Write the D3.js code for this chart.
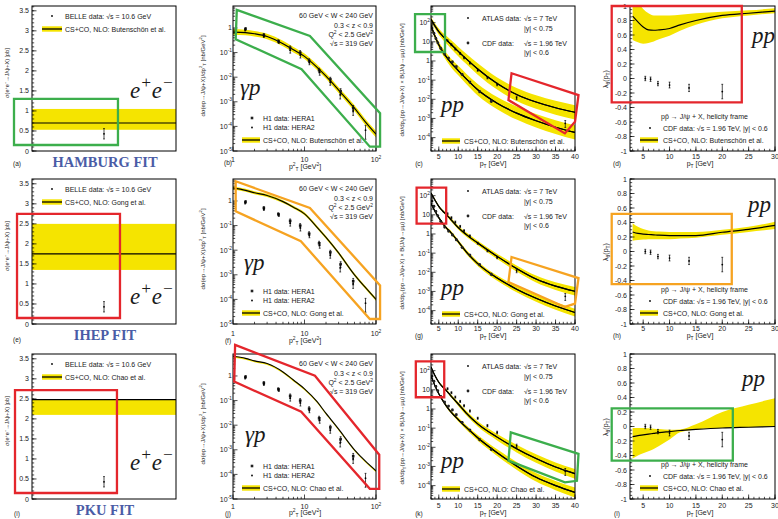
<!DOCTYPE html>
<html><head><meta charset="utf-8">
<script src="https://cdn.jsdelivr.net/npm/d3@7"></script>
<style>body{margin:0;background:#fff}svg{display:block}</style>
</head><body><svg id="chart" width="778" height="519"></svg>
<script>
// ================= DATA =================
const fitNames = ["HAMBURG FIT", "IHEP FIT", "PKU FIT"];
const modelNames = ["Butenschön et al.", "Gong et al.", "Chao et al."];

// Column 1: sigma(e+e- -> J/psi + X) [pb]
const eeCentral = [0.70, 1.75, 2.48];
const eeLow = [0.53, 1.35, 2.10];
const eeHigh = [1.05, 2.50, 2.48];
const belleX = 0.5;
const belleValue = 0.43;
const belleError = 0.13;

// Column 2: photoproduction, x = pT^2 [GeV^2]
const gpPt2 = [1, 1.5, 2, 3, 5, 7, 10, 15, 20, 30, 50, 70, 100];
const gpCentral = [
  [0.68, 0.65, 0.58, 0.45, 0.23, 0.13, 0.07, 0.025, 0.011, 0.003, 5.5e-4, 1.6e-4, 4.8e-5],
  [3.4, 2.7, 2.15, 1.67, 0.94, 0.56, 0.3, 0.085, 0.033, 0.0077, 1.0e-3, 3.2e-4, 1.0e-4],
  [6.3, 5.2, 4.1, 3.2, 1.46, 0.68, 0.3, 0.09, 0.03, 0.0069, 1.0e-3, 3.6e-4, 1.4e-4]
];
const gpLow = [
  [0.53, 0.51, 0.45, 0.35, 0.18, 0.101, 0.055, 0.0195, 0.0086, 0.0023, 4.2e-4, 1.2e-4, 3.5e-5],
  [2.96, 2.35, 1.87, 1.45, 0.82, 0.49, 0.26, 0.074, 0.0287, 0.0067, 8.7e-4, 2.8e-4, 8.7e-5],
  [5.5, 4.6, 3.6, 2.8, 1.28, 0.6, 0.264, 0.079, 0.0264, 0.0061, 8.8e-4, 3.2e-4, 1.23e-4]
];
const gpHigh = [
  [0.88, 0.85, 0.75, 0.58, 0.3, 0.17, 0.091, 0.0325, 0.0143, 0.0039, 7.2e-4, 2.1e-4, 6.5e-5],
  [3.9, 3.1, 2.47, 1.92, 1.08, 0.64, 0.345, 0.098, 0.038, 0.0089, 1.15e-3, 3.7e-4, 1.15e-4],
  [6.5, 5.35, 4.2, 3.3, 1.5, 0.72, 0.31, 0.093, 0.031, 0.0071, 1.03e-3, 3.7e-4, 1.44e-4]
];
const hera1Pt2 = [1.5, 2.7, 4.3, 6.3, 8.7, 11.6, 16, 23, 32, 48];
const hera1Val = [0.92, 0.52, 0.29, 0.155, 0.1, 0.047, 0.019, 0.0082, 0.0027, 5.5e-4];
const hera1Err = [0.12, 0.07, 0.04, 0.03, 0.02, 0.009, 0.004, 0.0017, 7e-4, 1.6e-4];
const hera2Pt2 = [1.45, 2.65, 4.3, 6.2, 8.6, 11.5, 16, 22.5, 31, 47, 70];
const hera2Val = [0.85, 0.47, 0.27, 0.125, 0.08, 0.04, 0.016, 0.0062, 0.0019, 4.3e-4, 7e-5];
const hera2Err = [0.1, 0.06, 0.035, 0.03, 0.02, 0.008, 0.004, 0.0015, 6e-4, 1.5e-4, 4e-5];

// Column 3: pp / ppbar, x = pT [GeV]
const ppPt = [3, 4, 5, 6, 7, 8, 10, 12, 15, 20, 25, 30, 35, 40];
const ppHiCentral = [
  [148, 68, 34, 20, 12.6, 7.9, 3.2, 1.32, 0.38, 0.066, 0.0178, 0.0072, 0.0036, 0.0021],
  [138, 60, 27.5, 15.8, 10, 6.0, 2.14, 0.955, 0.339, 0.0676, 0.0158, 0.00447, 0.0019, 0.00102],
  [158, 56, 25, 14.1, 8.9, 5.2, 1.82, 0.63, 0.166, 0.0339, 0.0085, 0.00257, 9.3e-4, 4.2e-4]
];
const ppHiLow = [
  [112, 49, 23.4, 13.2, 7.9, 4.8, 1.78, 0.71, 0.19, 0.032, 0.0081, 0.0032, 0.00158, 0.00089],
  [126, 53.7, 24, 13.5, 8.3, 4.9, 1.7, 0.74, 0.257, 0.049, 0.011, 0.00295, 0.0012, 6.2e-4],
  [148, 51, 22.4, 12.3, 7.6, 4.4, 1.45, 0.48, 0.12, 0.0229, 0.0054, 0.00155, 5.4e-4, 2.3e-4]
];
const ppHiHigh = [
  [195, 93, 49, 30, 20, 13.2, 5.6, 2.45, 0.76, 0.138, 0.039, 0.0162, 0.0083, 0.0049],
  [151, 68, 31.6, 18.6, 12, 7.4, 2.7, 1.23, 0.447, 0.093, 0.0229, 0.00676, 0.003, 0.0017],
  [170, 62, 28, 16.2, 10.5, 6.3, 2.3, 0.83, 0.23, 0.05, 0.0135, 0.0043, 0.00162, 7.4e-4]
];
const ppLoCentral = [
  [71, 20, 7.1, 3.16, 1.58, 0.87, 0.316, 0.12, 0.0316, 0.0063, 0.0019, 7.6e-4, 3.5e-4, 1.86e-4],
  [39.8, 15.8, 7.1, 3.55, 2.0, 1.26, 0.398, 0.12, 0.0282, 0.005, 0.00132, 4.4e-4, 1.74e-4, 7.9e-5],
  [55, 16.6, 6.3, 2.8, 1.38, 0.76, 0.28, 0.112, 0.0316, 0.0052, 0.00107, 2.7e-4, 1.0e-4, 4.4e-5]
];
const ppLoLow = [
  [54, 14.5, 4.9, 2.1, 1.0, 0.52, 0.178, 0.065, 0.0158, 0.003, 8.7e-4, 3.4e-4, 1.55e-4, 7.9e-5],
  [36.3, 14.1, 6.2, 3.0, 1.66, 1.02, 0.316, 0.093, 0.0214, 0.00363, 9.1e-4, 2.9e-4, 1.12e-4, 5.0e-5],
  [51, 15.1, 5.6, 2.45, 1.17, 0.63, 0.224, 0.085, 0.0229, 0.00355, 6.8e-4, 1.62e-4, 5.8e-5, 2.4e-5]
];
const ppLoHigh = [
  [93, 27.5, 10.2, 4.8, 2.5, 1.45, 0.56, 0.224, 0.063, 0.0132, 0.0042, 0.0017, 8.1e-4, 4.4e-4],
  [43.7, 17.8, 8.1, 4.2, 2.4, 1.55, 0.5, 0.155, 0.037, 0.0069, 0.0019, 6.6e-4, 2.7e-4, 1.26e-4],
  [59, 18.2, 7.1, 3.2, 1.62, 0.91, 0.355, 0.148, 0.0437, 0.0078, 0.0017, 4.5e-4, 1.74e-4, 7.9e-5]
];
const atlasPt = [7.25, 8.25, 9.25, 10.5, 11.5, 13, 15, 17.5, 20, 25, 37.5];
const atlasVal = [11.5, 7.1, 4.2, 2.5, 1.48, 0.79, 0.33, 0.135, 0.060, 0.012, 5.6e-4];
const atlasErr = [1.2, 0.8, 0.5, 0.3, 0.18, 0.1, 0.04, 0.018, 0.009, 0.0025, 2.2e-4];
const cdfPt = [3.25, 3.75, 4.25, 4.75, 5.5, 6.5, 7.5, 8.5, 9.5, 11, 13, 15.5, 18.5];
const cdfVal = [52, 28, 15.1, 8.9, 4.6, 2.3, 1.41, 0.89, 0.5, 0.2, 0.079, 0.025, 0.0079];
const cdfErr = [5, 2.8, 1.5, 0.9, 0.46, 0.23, 0.14, 0.09, 0.05, 0.02, 0.008, 0.003, 0.001];

// Column 4: polarization lambda_theta, x = pT [GeV]
const lamPt = [3, 4, 5, 6, 7, 8, 10, 12, 15, 20, 25, 30];
const lamCentral = [
  [0.86, 0.78, 0.71, 0.67, 0.665, 0.67, 0.69, 0.74, 0.8, 0.87, 0.9, 0.93],
  [0.27, 0.25, 0.24, 0.235, 0.23, 0.225, 0.22, 0.22, 0.22, 0.265, 0.305, 0.36],
  [-0.14, -0.125, -0.115, -0.105, -0.095, -0.085, -0.07, -0.055, -0.04, -0.02, -0.01, 0.0]
];
const lamLow = [
  [0.53, 0.5, 0.48, 0.49, 0.51, 0.54, 0.59, 0.66, 0.74, 0.83, 0.87, 0.9],
  [0.15, 0.16, 0.165, 0.17, 0.17, 0.17, 0.17, 0.18, 0.19, 0.23, 0.27, 0.31],
  [-0.44, -0.4, -0.37, -0.34, -0.31, -0.27, -0.18, -0.08, -0.04, -0.02, -0.01, 0.0]
];
const lamHigh = [
  [1.15, 1.05, 0.96, 0.9, 0.87, 0.87, 0.87, 0.88, 0.9, 0.92, 0.94, 0.97],
  [0.39, 0.34, 0.31, 0.29, 0.28, 0.275, 0.27, 0.27, 0.27, 0.3, 0.34, 0.41],
  [-0.02, -0.02, -0.02, -0.025, -0.03, -0.035, -0.045, -0.04, 0.03, 0.2, 0.3, 0.39]
];
const lamDataPt = [5.4, 6.4, 7.8, 10.0, 13.7, 20.0];
const lamDataVal = [0.0, -0.01, -0.07, -0.09, -0.13, -0.18];
const lamDataErr = [0.03, 0.03, 0.03, 0.04, 0.05, 0.1];

// Highlight annotations (data units of each panel)
const eeBoxColor = ["green", "red", "red"];
const eeBoxX = [[-0.125, 0.597], [-0.104, 0.611], [-0.118, 0.59]];
const eeBoxY = [[0.15, 1.30], [0.15, 2.75], [0.15, 2.72]];
const gpPolyColor = ["green", "orange", "red"];
const gpPolyX = [
  [1.13, 11.9, 114, 114, 82, 9.1, 1.09],
  [1.09, 11.9, 114, 114, 82, 8.9, 1.09],
  [1.07, 14, 111, 111, 82, 9.0, 1.04]
];
const gpPolyY = [
  [5.4, 0.47, 3.4e-4, 1.5e-5, 1.5e-5, 0.021, 0.35],
  [6.3, 0.52, 3.7e-4, 1.6e-5, 1.6e-5, 0.023, 0.38],
  [18.2, 1.02, 6.3e-4, 2.6e-5, 2.6e-5, 0.035, 0.59]
];
const ppBoxColor = ["green", "red", "red"];
const ppBoxX = [[-1.1, 6.6], [-0.7, 6.9], [-0.9, 6.4]];
const ppBoxY = [[2.95, 282], [3.5, 263], [4.1, 309]];
const ppPolyColor = ["red", "orange", "green"];
const ppPolyX = [
  [23.7, 40.9, 40.0, 37.4, 22.9],
  [23.7, 40.9, 40.0, 37.4, 22.9],
  [23.5, 40.9, 40.5, 37.4, 22.9]
];
const ppPolyY = [
  [0.229, 0.0166, 6.8e-4, 1.66e-4, 0.0091],
  [0.063, 0.005, 2.3e-4, 1.55e-4, 0.0031],
  [0.060, 0.0045, 1.78e-4, 1.48e-4, 0.002]
];
const lamBoxColor = ["red", "orange", "green"];
const lamBoxX = [[-0.97, 23.7], [-0.97, 21.8], [-0.97, 22.0]];
const lamBoxY = [[-0.33, 1.0], [-0.45, 0.52], [-0.47, 0.25]];

// ================= LAYOUT / STYLE =================
const svg = d3.select("#chart");
const defs = svg.append("defs");
const colX = [[32, 176], [233, 376], [431, 575], [630, 775]];
const rowY = [[6, 151], [179, 324], [354, 499]];
const YELLOW = "#f5e400";
const COLORS = { green: "#3cae4c", red: "#e4262c", orange: "#f6a321" };
const SANS = "'Liberation Sans', Arial, sans-serif";
const SERIF = "'Liberation Serif', 'Times New Roman', serif";
const TXT = "#1a1a1a";

function rich(g, x, y, parts, o) {
  const size = o.size;
  const t = g.append("text").attr("x", x).attr("y", y).attr("font-size", size)
    .attr("font-family", o.family || SANS).attr("text-anchor", o.anchor || "start")
    .attr("fill", o.fill || TXT);
  if (o.rotate) t.attr("transform", `rotate(-90 ${x} ${y})`);
  if (o.italic) t.attr("font-style", "italic");
  if (o.weight) t.attr("font-weight", o.weight);
  let cur = 0;
  parts.forEach(p => {
    const [s, mode] = Array.isArray(p) ? p : [p, ""];
    const off = mode === "sup" ? -size * (o.supShift || 0.4) : mode === "sub" ? size * 0.25 : 0;
    const ts = t.append("tspan").attr("dy", off - cur).text(s);
    if (mode) ts.attr("font-size", size * (o.scriptScale || 0.7));
    cur = off;
  });
  return t;
}
function addClip(id, x0, yt, x1, yb) {
  defs.append("clipPath").attr("id", id).append("rect")
    .attr("x", x0).attr("y", yt).attr("width", x1 - x0).attr("height", yb - yt);
}
function frame(g, x0, yt, x1, yb) {
  g.append("rect").attr("x", x0).attr("y", yt).attr("width", x1 - x0).attr("height", yb - yt)
    .attr("fill", "none").attr("stroke", "#000").attr("stroke-width", 1);
}
function tickLine(g, x1, y1, x2, y2) {
  g.append("line").attr("x1", x1).attr("y1", y1).attr("x2", x2).attr("y2", y2)
    .attr("stroke", "#000").attr("stroke-width", 0.7);
}
function ticksY(g, y, x0, majors, minors) {
  majors.forEach(v => tickLine(g, x0, y(v), x0 + 4.5, y(v)));
  minors.forEach(v => tickLine(g, x0, y(v), x0 + 2.2, y(v)));
}
function ticksX(g, x, yb, majors, minors) {
  majors.forEach(v => tickLine(g, x(v), yb, x(v), yb - 4.5));
  minors.forEach(v => tickLine(g, x(v), yb, x(v), yb - 2.2));
}
function logMajors(lo, hi) {
  const out = [];
  for (let k = Math.ceil(Math.log10(lo) - 1e-9); k <= Math.floor(Math.log10(hi) + 1e-9); k++) out.push(Math.pow(10, k));
  return out;
}
function logMinors(lo, hi) {
  const out = [];
  for (let k = Math.floor(Math.log10(lo)); k <= Math.ceil(Math.log10(hi)); k++)
    for (let m = 2; m < 10; m++) { const v = m * Math.pow(10, k); if (v >= lo && v <= hi) out.push(v); }
  return out;
}
function logLabel(v) {
  const k = Math.round(Math.log10(v));
  if (k === 0) return ["1"];
  if (k === 1) return ["10"];
  return ["10", [String(k), "sup"]];
}
function linLabel(v) { const s = String(Math.round(v * 10) / 10); return s === "-0" ? "0" : s; }
function errBar(g, cx, y1, y2) {
  tickLine(g, cx, y1, cx, y2);
  tickLine(g, cx - 0.9, y1, cx + 0.9, y1);
  tickLine(g, cx - 0.9, y2, cx + 0.9, y2);
}
function swatch(g, x0, x1, yc) {
  g.append("rect").attr("x", x0).attr("y", yc - 2.7).attr("width", x1 - x0).attr("height", 5.4).attr("fill", YELLOW);
  g.append("line").attr("x1", x0).attr("x2", x1).attr("y1", yc).attr("y2", yc).attr("stroke", "#000").attr("stroke-width", 1.3);
}
function polygon(g, xs, ys, x, y, color) {
  const pts = xs.map((v, i) => [x(v), y(ys[i])]);
  g.append("path").attr("d", d3.line()(pts) + "Z").attr("fill", "none")
    .attr("stroke", COLORS[color]).attr("stroke-width", 2.3).attr("stroke-linejoin", "miter");
}
function box(g, bx, by, x, y, color) {
  polygon(g, [bx[0], bx[1], bx[1], bx[0]], [by[0], by[0], by[1], by[1]], x, y, color);
}
function bandAndLine(gc, xs, x, y, lo, hi, c) {
  gc.append("path").attr("d", d3.area().x((d, i) => x(xs[i])).y0((d, i) => y(lo[i])).y1((d, i) => y(hi[i]))
    .curve(d3.curveMonotoneX)(xs)).attr("fill", YELLOW);
  gc.append("path").attr("d", d3.line().x((d, i) => x(xs[i])).y((d, i) => y(c[i]))
    .curve(d3.curveMonotoneX)(xs)).attr("fill", "none").attr("stroke", "#000").attr("stroke-width", 1.15);
}

const panelLetters = [["(a)", "(b)", "(c)", "(d)"], ["(e)", "(f)", "(g)", "(h)"], ["(i)", "(j)", "(k)", "(l)"]];
const letterX = [17, 228, 419, 617];
const letterY = [[166, 165, 166, 166], [342, 343, 338, 338], [516, 516, 516, 516]];
const xTitleY = [[169, 166], [343, 338], [515, 515]];
const xTickY = [[162, 159], [336, 331], [509, 508]];

// ================= PANEL A: e+e- =================
function panelA(r) {
  const [x0, x1] = colX[0], [yt, yb] = rowY[r];
  const g = svg.append("g");
  const x = d3.scaleLinear().domain([0, 1]).range([x0, x1]);
  const y = d3.scaleLinear().domain([0, 3.62]).range([yb, yt]);
  g.append("rect").attr("x", x0).attr("width", x1 - x0).attr("y", y(eeHigh[r]))
    .attr("height", Math.max(0, y(eeLow[r]) - y(eeHigh[r]))).attr("fill", YELLOW);
  g.append("line").attr("x1", x0).attr("x2", x1).attr("y1", y(eeCentral[r])).attr("y2", y(eeCentral[r]))
    .attr("stroke", "#000").attr("stroke-width", 1.15);
  errBar(g, x(belleX), y(belleValue - belleError), y(belleValue + belleError));
  g.append("circle").attr("cx", x(belleX)).attr("cy", y(belleValue)).attr("r", 0.9).attr("fill", "#000");
  frame(g, x0, yt, x1, yb);
  ticksY(g, y, x0, d3.range(0, 8).map(i => i * 0.5), d3.range(0, 37).map(i => i * 0.1));
  d3.range(0, 8).map(i => i * 0.5).forEach(v => rich(g, x0 - 3, y(v) + 2.5, [linLabel(v)], { size: 7, anchor: "end" }));
  rich(g, 9, yt + 67, ["σ(e", ["+", "sup"], "e", ["−", "sup"], "→J/ψ+X)  [pb]"], { size: 5.6, anchor: "middle", rotate: true });
  // legend
  g.append("circle").attr("cx", 52).attr("cy", yt + 10).attr("r", 0.9).attr("fill", "#000");
  rich(g, 65, yt + 12.5, ["BELLE data: √s = 10.6 GeV"], { size: 7 });
  swatch(g, 42, 62, yt + 23);
  rich(g, 65, yt + 25.5, ["CS+CO, NLO: " + modelNames[r]], { size: 7 });
  // e+e-
  rich(g, 130, [98, 304, 470][r], ["e", ["+", "sup"], "e", ["−", "sup"]], { size: 23, family: SERIF, italic: true, scriptScale: 0.75, supShift: 0.42 });
  rich(g, 105, yb + 16, [fitNames[r]], { size: 14.5, family: SERIF, weight: "bold", anchor: "middle", fill: "#4a5ca6" });
  rich(g, letterX[0], letterY[r][0], [panelLetters[r][0]], { size: 6.5, anchor: "middle" });
  box(g, eeBoxX[r], eeBoxY[r], x, y, eeBoxColor[r]);
}

// ================= PANEL B: gamma p =================
function panelB(r) {
  const [x0, x1] = colX[1], [yt, yb] = rowY[r];
  const g = svg.append("g");
  const x = d3.scaleLog().domain([1, 100]).range([x0, x1]);
  const y = d3.scaleLog().domain([1e-5, 7.8]).range([yb, yt]);
  const id = "clipB" + r; addClip(id, x0, yt, x1, yb);
  const gc = g.append("g").attr("clip-path", `url(#${id})`);
  bandAndLine(gc, gpPt2, x, y, gpLow[r], gpHigh[r], gpCentral[r]);
  hera1Pt2.forEach((p, i) => {
    errBar(gc, x(p), y(hera1Val[i] - hera1Err[i]), y(hera1Val[i] + hera1Err[i]));
    gc.append("rect").attr("x", x(p) - 1.3).attr("y", y(hera1Val[i]) - 1.3).attr("width", 2.6).attr("height", 2.6).attr("fill", "#222");
  });
  hera2Pt2.forEach((p, i) => {
    errBar(gc, x(p) + 0.6, y(hera2Val[i] - hera2Err[i]), y(hera2Val[i] + hera2Err[i]));
    gc.append("circle").attr("cx", x(p) + 0.6).attr("cy", y(hera2Val[i])).attr("r", 0.9).attr("fill", "#000");
  });
  frame(g, x0, yt, x1, yb);
  const [ylo, yhi] = y.domain();
  ticksY(g, y, x0, logMajors(ylo, yhi), logMinors(ylo, yhi));
  ticksX(g, x, yb, logMajors(1, 100), logMinors(1, 100));
  logMajors(ylo, yhi).forEach(v => rich(g, x0 - 1, y(v) + 2.5, logLabel(v), { size: 7, anchor: "end" }));
  logMajors(1, 100).forEach(v => rich(g, x(v), xTickY[r][0], logLabel(v), { size: 7, anchor: "middle" }));
  rich(g, 204.5, yt + 70, ["dσ(ep→J/ψ+X)/dp", ["2", "sup"], ["T", "sub"], "  [nb/GeV", ["2", "sup"], "]"], { size: 6, anchor: "middle", rotate: true });
  rich(g, 305, xTitleY[r][0], ["p", ["2", "sup"], ["T", "sub"], " [GeV", ["2", "sup"], "]"], { size: 7, anchor: "middle" });
  rich(g, letterX[1], letterY[r][1], [panelLetters[r][1]], { size: 6.5, anchor: "middle" });
  // top-right text block
  rich(g, x1 - 3, yt + 12, ["60 GeV < W < 240 GeV"], { size: 7, anchor: "end" });
  rich(g, x1 - 3, yt + 22, ["0.3 < z < 0.9"], { size: 7, anchor: "end" });
  rich(g, x1 - 3, yt + 30.5, ["Q", ["2", "sup"], " < 2.5 GeV", ["2", "sup"]], { size: 7, anchor: "end" });
  rich(g, x1 - 3, yt + 39.5, ["√s = 319 GeV"], { size: 7, anchor: "end" });
  // legend
  g.append("rect").attr("x", 250.7).attr("y", yt + 110.7).attr("width", 2.6).attr("height", 2.6).attr("fill", "#222");
  rich(g, 263, yt + 114.5, ["H1 data: HERA1"], { size: 7 });
  g.append("circle").attr("cx", 252).attr("cy", yt + 121.5).attr("r", 0.9).attr("fill", "#000");
  rich(g, 263, yt + 124, ["H1 data: HERA2"], { size: 7 });
  swatch(g, 242, 260, yt + 134);
  rich(g, 263, yt + 136.5, ["CS+CO, NLO: " + modelNames[r]], { size: 7 });
  rich(g, [240, 244, 245][r], [95, 270, 442][r], ["γp"], { size: 23, family: SERIF, italic: true });
  polygon(g, gpPolyX[r], gpPolyY[r], x, y, gpPolyColor[r]);
}

// ================= PANEL C: pp =================
function panelC(r) {
  const [x0, x1] = colX[2], [yt, yb] = rowY[r];
  const g = svg.append("g");
  const x = d3.scaleLinear().domain([3, 40]).range([x0, x1]);
  const y = d3.scaleLog().domain([2e-5, 741]).range([yb, yt]);
  const id = "clipC" + r; addClip(id, x0, yt, x1, yb);
  const gc = g.append("g").attr("clip-path", `url(#${id})`);
  bandAndLine(gc, ppPt, x, y, ppHiLow[r], ppHiHigh[r], ppHiCentral[r]);
  bandAndLine(gc, ppPt, x, y, ppLoLow[r], ppLoHigh[r], ppLoCentral[r]);
  // redraw central lines on top of both bands
  [ppHiCentral[r], ppLoCentral[r]].forEach(c => gc.append("path")
    .attr("d", d3.line().x((d, i) => x(ppPt[i])).y((d, i) => y(c[i])).curve(d3.curveMonotoneX)(ppPt))
    .attr("fill", "none").attr("stroke", "#000").attr("stroke-width", 1.15));
  cdfPt.forEach((p, i) => {
    errBar(gc, x(p), y(cdfVal[i] - cdfErr[i]), y(cdfVal[i] + cdfErr[i]));
    gc.append("circle").attr("cx", x(p)).attr("cy", y(cdfVal[i])).attr("r", 1.4).attr("fill", "#222");
  });
  atlasPt.forEach((p, i) => {
    errBar(gc, x(p), y(atlasVal[i] - atlasErr[i]), y(atlasVal[i] + atlasErr[i]));
    gc.append("circle").attr("cx", x(p)).attr("cy", y(atlasVal[i])).attr("r", 0.9).attr("fill", "#000");
  });
  frame(g, x0, yt, x1, yb);
  const [ylo, yhi] = y.domain();
  ticksY(g, y, x0, logMajors(ylo, yhi), logMinors(ylo, yhi));
  ticksX(g, x, yb, d3.range(5, 41, 5), d3.range(3, 41, 1));
  logMajors(ylo, yhi).forEach(v => rich(g, x0 - 1, y(v) + 2.5, logLabel(v), { size: 7, anchor: "end" }));
  d3.range(5, 41, 5).forEach(v => rich(g, x(v), xTickY[r][1], [String(v)], { size: 7, anchor: "middle" }));
  rich(g, 404, yt + 74, ["dσ/dp", ["T", "sub"], "(pp→J/ψ+X) × B(J/ψ→μμ)  [nb/GeV]"], { size: 6, anchor: "middle", rotate: true });
  rich(g, 493, xTitleY[r][1], ["p", ["T", "sub"], " [GeV]"], { size: 7, anchor: "middle" });
  rich(g, letterX[2], letterY[r][2], [panelLetters[r][2]], { size: 6.5, anchor: "middle" });
  // legend
  g.append("circle").attr("cx", 468).attr("cy", yt + 12).attr("r", 0.9).attr("fill", "#000");
  rich(g, 482, yt + 14.5, ["ATLAS data:"], { size: 7 });
  rich(g, 524, yt + 14.5, ["√s = 7 TeV"], { size: 7 });
  rich(g, 524, yt + 24.5, ["|y| < 0.75"], { size: 7 });
  g.append("circle").attr("cx", 468).attr("cy", yt + 37).attr("r", 1.4).attr("fill", "#222");
  rich(g, 482, yt + 39.5, ["CDF data:"], { size: 7 });
  rich(g, 524, yt + 39.5, ["√s = 1.96 TeV"], { size: 7 });
  rich(g, 524, yt + 48.5, ["|y| < 0.6"], { size: 7 });
  swatch(g, 442, 460, yt + 135);
  rich(g, 464, yt + 137.5, ["CS+CO, NLO: " + modelNames[r]], { size: 7 });
  rich(g, 441, [112, 295, 468][r], ["pp"], { size: 23, family: SERIF, italic: true });
  box(g, ppBoxX[r], ppBoxY[r], x, y, ppBoxColor[r]);
  polygon(g, ppPolyX[r], ppPolyY[r], x, y, ppPolyColor[r]);
}

// ================= PANEL D: polarization =================
function panelD(r) {
  const [x0, x1] = colX[3], [yt, yb] = rowY[r];
  const g = svg.append("g");
  const x = d3.scaleLinear().domain([2.5, 30]).range([x0, x1]);
  const y = d3.scaleLinear().domain([-1, 1]).range([yb, yt]);
  const id = "clipD" + r; addClip(id, x0, yt, x1, yb);
  const gc = g.append("g").attr("clip-path", `url(#${id})`);
  bandAndLine(gc, lamPt, x, y, lamLow[r], lamHigh[r], lamCentral[r]);
  lamDataPt.forEach((p, i) => {
    errBar(gc, x(p), y(lamDataVal[i] - lamDataErr[i]), y(lamDataVal[i] + lamDataErr[i]));
    gc.append("circle").attr("cx", x(p)).attr("cy", y(lamDataVal[i])).attr("r", 0.9).attr("fill", "#000");
  });
  frame(g, x0, yt, x1, yb);
  const yMaj = d3.range(-5, 6).map(i => i * 0.2);
  ticksY(g, y, x0, yMaj, d3.range(-20, 21).map(i => i * 0.05));
  ticksX(g, x, yb, d3.range(5, 31, 5), d3.range(3, 31, 1));
  yMaj.forEach(v => rich(g, x0 - 3, y(v) + 2.5, [linLabel(v)], { size: 7, anchor: "end" }));
  d3.range(5, 31, 5).forEach(v => rich(g, x(v), xTickY[r][1], [String(v)], { size: 7, anchor: "middle" }));
  rich(g, 608, yt + 73, ["λ", ["θ", "sub"], "(p", ["T", "sub"], ")"], { size: 7, anchor: "middle", rotate: true });
  rich(g, 700, xTitleY[r][1], ["p", ["T", "sub"], " [GeV]"], { size: 7, anchor: "middle" });
  rich(g, letterX[3], letterY[r][3], [panelLetters[r][3]], { size: 6.5, anchor: "middle" });
  // legend
  rich(g, 661, yt + 113, ["pp\u0304 → J/ψ + X, helicity frame"], { size: 7 });
  g.append("circle").attr("cx", 650).attr("cy", yt + 122).attr("r", 0.9).attr("fill", "#000");
  rich(g, 663, yt + 124.5, ["CDF data: √s = 1.96 TeV, |y| < 0.6"], { size: 7 });
  swatch(g, 640, 658, yt + 134);
  rich(g, 663, yt + 136.5, ["CS+CO, NLO: " + modelNames[r]], { size: 7 });
  rich(g, [752, 748, 742][r], [43, 212, 386][r], ["pp"], { size: 23, family: SERIF, italic: true });
  box(g, lamBoxX[r], lamBoxY[r], x, y, lamBoxColor[r]);
}

for (let r = 0; r < 3; r++) { panelA(r); panelB(r); panelC(r); panelD(r); }
</script></body></html>
